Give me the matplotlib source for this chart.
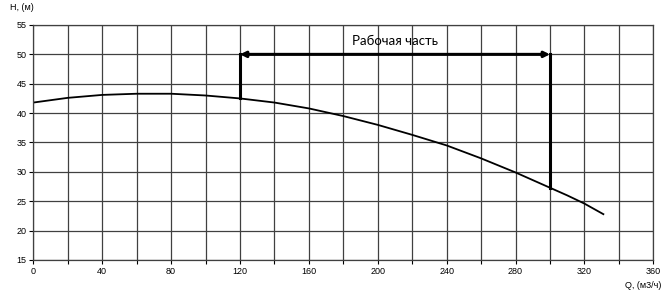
import matplotlib.pyplot as plt
from matplotlib.ticker import MultipleLocator

# pump head curve
q_values = [0, 20, 40, 60, 80, 100, 120, 140, 160, 180, 200, 220, 240, 260, 280, 300, 310, 320, 331]
h_values = [41.8, 42.6, 43.1, 43.3, 43.3, 43.0, 42.5, 41.8, 40.8, 39.5, 38.0, 36.3, 34.5, 32.3, 29.9, 27.3, 26.0, 24.6, 22.8]

work_start = 120
work_end = 300
work_level = 50
h_at_start = 42.5
h_at_end = 27.3

plt.rcParams['font.family'] = ['Liberation Sans', 'DejaVu Sans']

fig = plt.figure(figsize=(6.68, 2.92), dpi=100)
ax = fig.add_axes([0.0499, 0.1096, 0.9281, 0.8048])

ax.plot(q_values, h_values, color="black", linewidth=1.3)

# working zone markers
ax.plot([work_start, work_start], [h_at_start, work_level], color="black", linewidth=2.2)
ax.plot([work_end, work_end], [h_at_end, work_level], color="black", linewidth=2.2)
ax.annotate("", xy=(work_start, work_level), xytext=(work_end, work_level),
            arrowprops=dict(arrowstyle="<|-|>", color="black", lw=2.2,
                            shrinkA=0, shrinkB=0, mutation_scale=8))
ax.text(210, 52.2, "Рабочая часть", ha="center", va="center",
        fontsize=9.5, family=["Lato", "DejaVu Sans"])

ax.set_xlim(0, 360)
ax.set_ylim(15, 55)
ax.xaxis.set_major_locator(MultipleLocator(40))
ax.xaxis.set_minor_locator(MultipleLocator(20))
ax.yaxis.set_major_locator(MultipleLocator(5))
ax.grid(True, which="both", color="#404040", linewidth=0.9)
ax.tick_params(which="both", direction="out", length=3, width=0.8, labelsize=6.5, pad=2)
for s in ax.spines.values():
    s.set_color("#404040")
    s.set_linewidth(0.9)

fig.text(10 / 668, 1 - 8 / 292, "H, (м)", fontsize=6.5, ha="left", va="center")
fig.text(661 / 668, 1 - 286 / 292, "Q, (м3/ч)", fontsize=6.5, ha="right", va="center")

fig.savefig("out.png", dpi=100)
